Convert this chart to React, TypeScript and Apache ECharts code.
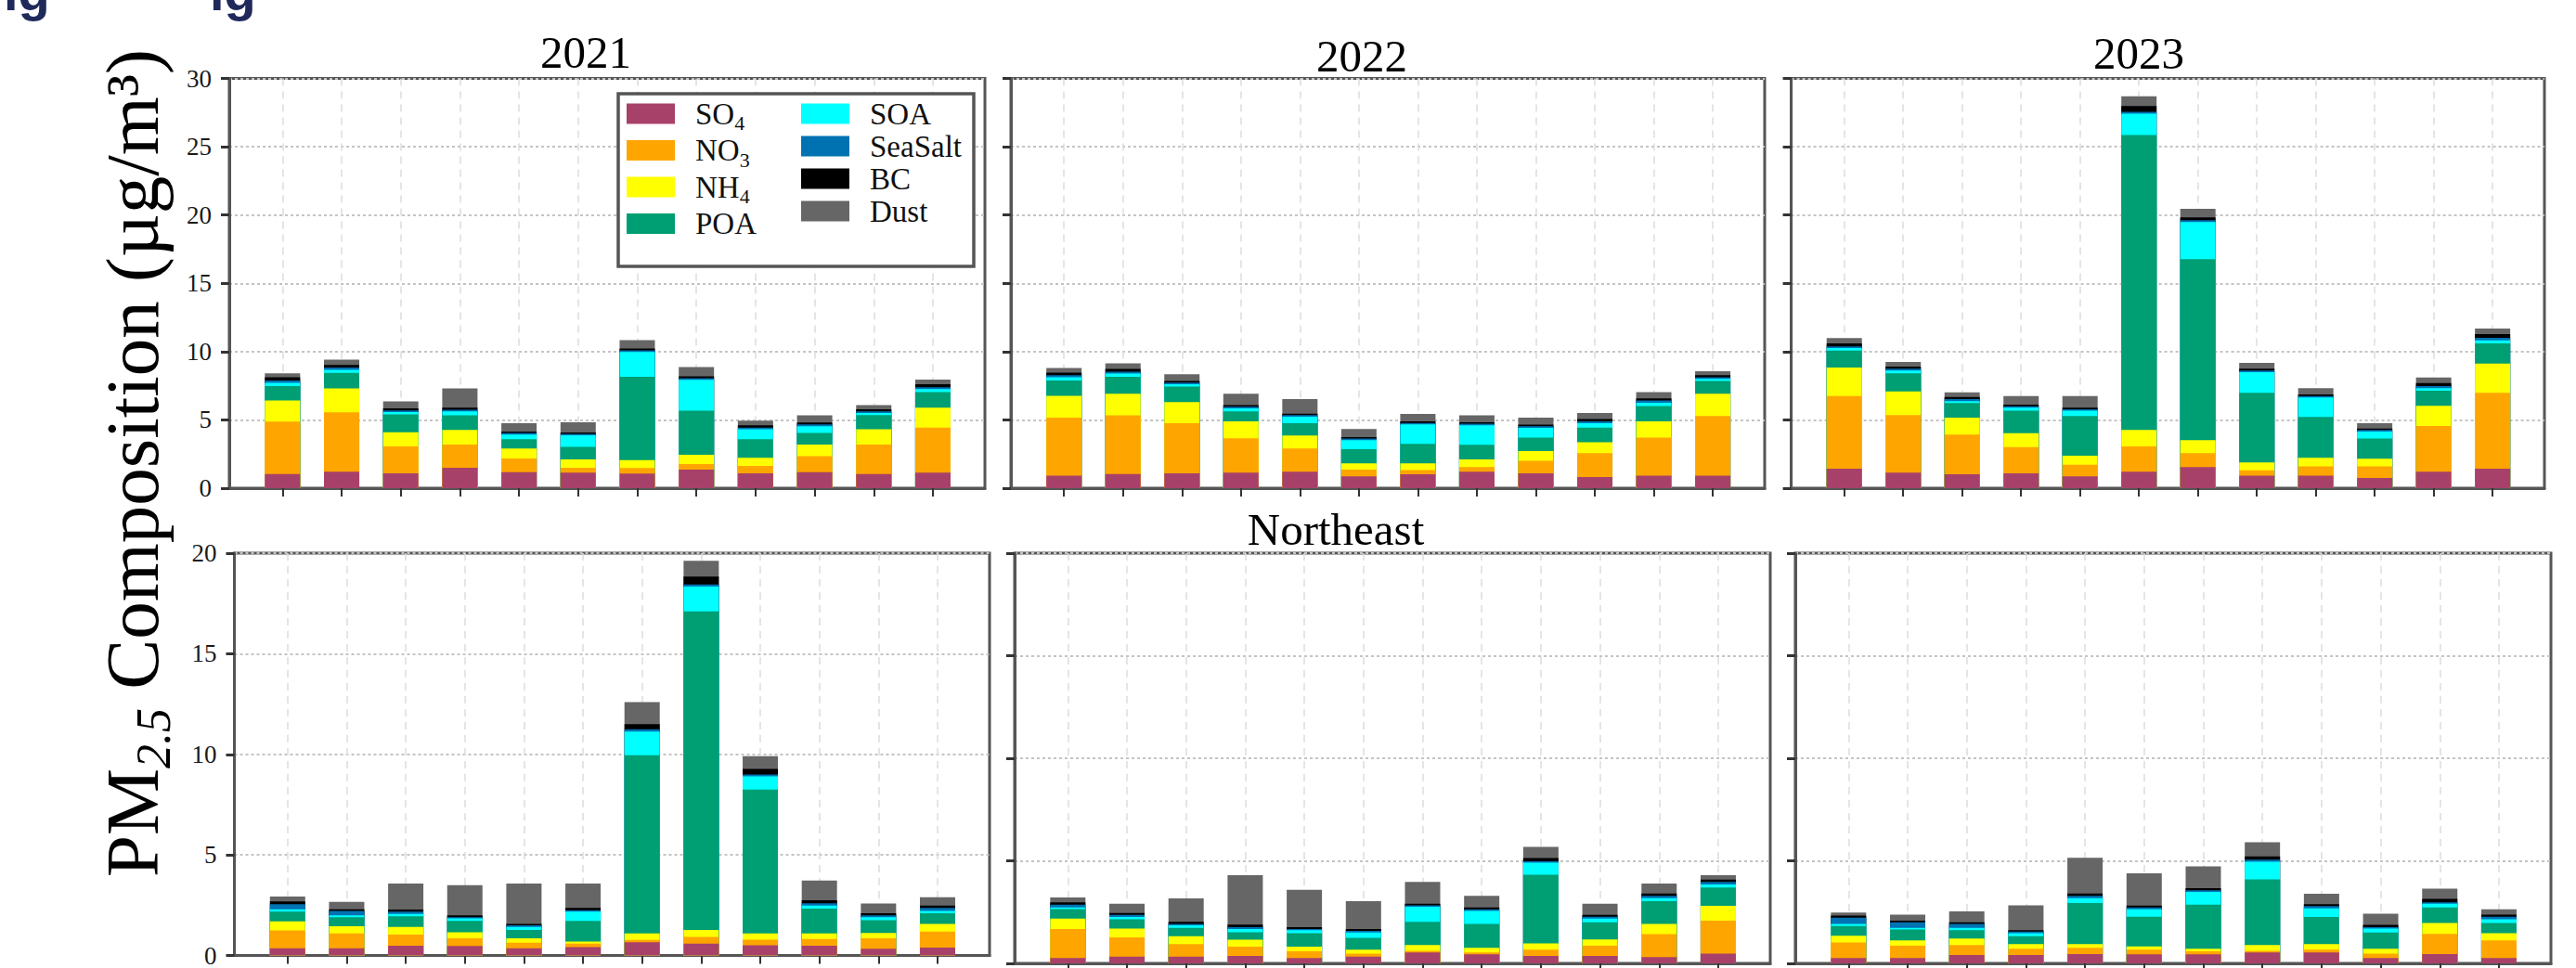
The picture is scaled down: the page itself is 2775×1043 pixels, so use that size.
import React, { useEffect, useRef } from 'react';
import * as echarts from 'echarts';

// ---------- data ----------
const COMPONENTS = ['SO4', 'NO3', 'NH4', 'POA', 'SOA', 'SeaSalt', 'BC', 'Dust'];
const COLORS = ['#A8416A', '#FFA500', '#FFFF00', '#009E73', '#00FFFF', '#0072B2', '#000000', '#666666'];
const MONTHS = [0, 1, 2, 3, 4, 5, 6, 7, 8, 9, 10, 11];
const YEARS = ['2021', '2022', '2023'];
const REGION = 'Northeast';
const TOP_MAX = 30;
const NE_MAX = 20;
const TICK_STEP = 5;

// top row (region above Northeast), rows = SO4, NO3, NH4, POA, SOA, SeaSalt, BC, Dust
const top2021 = [
  [1.04, 1.20, 1.09, 1.50, 1.18, 1.13, 1.07, 1.36, 1.09, 1.18, 1.04, 1.13],
  [3.84, 4.36, 1.97, 1.70, 1.00, 0.37, 0.40, 0.41, 0.54, 1.16, 2.16, 3.31],
  [1.54, 1.74, 1.04, 1.06, 0.72, 0.61, 0.59, 0.68, 0.59, 0.86, 1.11, 1.46],
  [1.06, 1.14, 1.30, 1.07, 0.68, 0.91, 6.10, 3.22, 1.36, 0.84, 1.04, 1.13],
  [0.23, 0.22, 0.18, 0.29, 0.34, 0.86, 1.82, 2.27, 0.73, 0.50, 0.16, 0.23],
  [0.18, 0.18, 0.11, 0.12, 0.12, 0.09, 0.11, 0.11, 0.13, 0.13, 0.11, 0.13],
  [0.23, 0.18, 0.16, 0.16, 0.11, 0.11, 0.14, 0.14, 0.16, 0.14, 0.16, 0.23],
  [0.29, 0.39, 0.50, 1.40, 0.61, 0.75, 0.61, 0.68, 0.34, 0.52, 0.30, 0.34],
];
const top2022 = [
  [0.91, 1.04, 1.09, 1.13, 1.20, 0.86, 1.02, 1.20, 1.09, 0.82, 0.91, 0.91],
  [4.26, 4.29, 3.67, 2.52, 1.70, 0.50, 0.30, 0.34, 0.91, 1.74, 2.79, 4.37],
  [1.59, 1.59, 1.54, 1.25, 0.95, 0.45, 0.49, 0.57, 0.72, 0.80, 1.20, 1.64],
  [1.13, 1.24, 1.14, 0.72, 0.91, 1.05, 1.43, 1.06, 0.98, 1.08, 1.11, 0.93],
  [0.23, 0.23, 0.18, 0.23, 0.48, 0.65, 1.43, 1.43, 0.72, 0.32, 0.25, 0.15],
  [0.16, 0.14, 0.11, 0.11, 0.11, 0.12, 0.11, 0.12, 0.12, 0.14, 0.16, 0.12],
  [0.18, 0.20, 0.12, 0.12, 0.11, 0.11, 0.12, 0.11, 0.11, 0.16, 0.16, 0.16],
  [0.34, 0.41, 0.49, 0.84, 1.07, 0.59, 0.54, 0.50, 0.52, 0.45, 0.45, 0.29],
];
const top2023 = [
  [1.43, 1.13, 1.02, 1.09, 0.86, 1.20, 1.54, 0.91, 0.91, 0.75, 1.20, 1.43],
  [5.32, 4.22, 2.90, 1.92, 0.86, 1.86, 1.02, 0.40, 0.68, 0.84, 3.35, 5.55],
  [2.09, 1.74, 1.25, 1.02, 0.66, 1.20, 0.95, 0.57, 0.63, 0.56, 1.48, 2.15],
  [1.24, 1.32, 1.06, 1.64, 2.90, 21.60, 13.26, 5.10, 2.99, 1.48, 1.11, 1.47],
  [0.18, 0.20, 0.14, 0.22, 0.39, 1.56, 2.72, 1.52, 1.43, 0.52, 0.18, 0.23],
  [0.12, 0.14, 0.16, 0.11, 0.11, 0.14, 0.13, 0.11, 0.11, 0.11, 0.16, 0.18],
  [0.22, 0.16, 0.15, 0.12, 0.11, 0.43, 0.21, 0.14, 0.12, 0.11, 0.22, 0.27],
  [0.39, 0.34, 0.34, 0.63, 0.86, 0.70, 0.63, 0.43, 0.45, 0.39, 0.41, 0.41],
];
const ne2021 = [
  [0.36, 0.36, 0.48, 0.47, 0.36, 0.42, 0.66, 0.59, 0.51, 0.48, 0.33, 0.39],
  [0.88, 0.73, 0.56, 0.38, 0.27, 0.17, 0.11, 0.33, 0.28, 0.34, 0.52, 0.80],
  [0.45, 0.36, 0.38, 0.30, 0.22, 0.10, 0.32, 0.35, 0.30, 0.27, 0.27, 0.38],
  [0.49, 0.45, 0.53, 0.57, 0.42, 1.03, 8.86, 15.83, 7.16, 1.24, 0.63, 0.53],
  [0.12, 0.09, 0.12, 0.12, 0.15, 0.46, 1.18, 1.24, 0.65, 0.15, 0.15, 0.12],
  [0.25, 0.22, 0.11, 0.06, 0.08, 0.07, 0.11, 0.10, 0.10, 0.12, 0.09, 0.14],
  [0.14, 0.09, 0.10, 0.09, 0.07, 0.11, 0.26, 0.40, 0.27, 0.15, 0.11, 0.12],
  [0.24, 0.37, 1.30, 1.51, 2.01, 1.22, 1.10, 0.78, 0.64, 0.98, 0.48, 0.41],
];
const ne2022 = [
  [0.26, 0.33, 0.33, 0.36, 0.26, 0.33, 0.53, 0.44, 0.36, 0.36, 0.30, 0.48],
  [1.41, 0.94, 0.61, 0.46, 0.33, 0.15, 0.08, 0.09, 0.31, 0.50, 1.12, 1.60],
  [0.51, 0.43, 0.38, 0.33, 0.23, 0.19, 0.28, 0.23, 0.30, 0.31, 0.50, 0.72],
  [0.47, 0.45, 0.41, 0.37, 0.65, 0.57, 1.14, 1.16, 3.35, 0.83, 1.11, 0.90],
  [0.08, 0.11, 0.12, 0.15, 0.15, 0.26, 0.73, 0.64, 0.59, 0.18, 0.15, 0.15],
  [0.13, 0.10, 0.07, 0.10, 0.05, 0.08, 0.07, 0.08, 0.07, 0.09, 0.11, 0.12],
  [0.12, 0.09, 0.11, 0.12, 0.10, 0.09, 0.08, 0.09, 0.16, 0.09, 0.12, 0.11],
  [0.23, 0.46, 1.14, 2.41, 1.82, 1.36, 1.06, 0.56, 0.54, 0.55, 0.48, 0.22],
];
const ne2023 = [
  [0.26, 0.26, 0.41, 0.41, 0.45, 0.44, 0.44, 0.53, 0.53, 0.26, 0.45, 0.26],
  [0.76, 0.60, 0.48, 0.30, 0.31, 0.23, 0.15, 0.08, 0.14, 0.22, 0.99, 0.86],
  [0.33, 0.26, 0.32, 0.23, 0.18, 0.16, 0.12, 0.28, 0.27, 0.23, 0.53, 0.35],
  [0.47, 0.53, 0.41, 0.38, 2.00, 1.44, 2.15, 3.20, 1.32, 0.79, 0.76, 0.50],
  [0.10, 0.08, 0.11, 0.15, 0.24, 0.37, 0.62, 0.86, 0.42, 0.20, 0.18, 0.18],
  [0.31, 0.27, 0.19, 0.08, 0.11, 0.09, 0.08, 0.11, 0.11, 0.07, 0.07, 0.12],
  [0.10, 0.08, 0.08, 0.07, 0.12, 0.09, 0.11, 0.15, 0.09, 0.11, 0.16, 0.11],
  [0.15, 0.30, 0.53, 1.21, 1.74, 1.57, 1.06, 0.70, 0.51, 0.54, 0.50, 0.26],
];

// ---------- layout ----------
const SERIF = "'Liberation Serif', 'Times New Roman', serif";
const FRAME = '#555555';
const PANELS = [
  { data: top2021, left: 247, top: 84.6, width: 814, height: 441.4, max: TOP_MAX, labels: true },
  { data: top2022, left: 1089, top: 84.6, width: 812, height: 441.4, max: TOP_MAX, labels: false },
  { data: top2023, left: 1929.6, top: 84.6, width: 811.4, height: 441.4, max: TOP_MAX, labels: false },
  { data: ne2021, left: 252.5, top: 596, width: 813.5, height: 442, max: NE_MAX, labels: true },
  { data: ne2022, left: 1093, top: 596, width: 814, height: 442, max: NE_MAX, labels: false },
  { data: ne2023, left: 1934, top: 596, width: 814, height: 442, max: NE_MAX, labels: false },
];

const LEGEND_LABEL: Record<string, string> = {
  SO4: '{a|SO}{s|4}',
  NO3: '{a|NO}{s|3}',
  NH4: '{a|NH}{s|4}',
  POA: '{a|POA}',
  SOA: '{a|SOA}',
  SeaSalt: '{a|SeaSalt}',
  BC: '{a|BC}',
  Dust: '{a|Dust}',
};

function cumulative(rows: number[][]): number[][] {
  const out: number[][] = [];
  rows.forEach((row, c) => {
    out.push(row.map((v, i) => (c === 0 ? v : out[c - 1][i] + v)));
  });
  return out;
}

function buildOption() {
  const grid: any[] = [];
  const xAxis: any[] = [];
  const yAxis: any[] = [];
  const series: any[] = [];

  PANELS.forEach((p, pi) => {
    grid.push({
      left: p.left, top: p.top, width: p.width, height: p.height,
      show: true, borderColor: FRAME, borderWidth: 3, containLabel: false,
    });
    xAxis.push({
      type: 'value', gridIndex: pi, min: -0.9, max: 11.88,
      axisLine: { show: true, onZero: false, lineStyle: { color: FRAME, width: 3 } },
      axisTick: { show: true, customValues: MONTHS, length: 9, lineStyle: { color: '#333', width: 2 } },
      axisLabel: { show: false },
      splitLine: { show: true, lineStyle: { color: '#dddddd', type: [8, 6], width: 1.5 } },
    });
    yAxis.push({
      type: 'value', gridIndex: pi, min: 0, max: p.max, interval: TICK_STEP,
      axisLine: { show: true, onZero: false, lineStyle: { color: FRAME, width: 3 } },
      axisTick: { show: true, length: 9, lineStyle: { color: '#333', width: 3 } },
      axisLabel: {
        show: p.labels, fontFamily: SERIF, fontSize: 27, color: '#1a1a1a', margin: 19,
      },
      splitLine: { show: true, lineStyle: { color: '#c4c4c4', type: [3, 3], width: 2.2 } },
    });
    const cum = cumulative(p.data);
    for (let c = COMPONENTS.length - 1; c >= 0; c--) {
      series.push({
        type: 'bar', name: COMPONENTS[c], xAxisIndex: pi, yAxisIndex: pi,
        barWidth: 38, barGap: '-100%', silent: true,
        itemStyle: { color: COLORS[c] },
        data: cum[c].map((v, i) => [MONTHS[i], v]),
      });
    }
  });

  const legendCommon = {
    orient: 'vertical', padding: 0, itemWidth: 52, itemHeight: 22, itemGap: 2,
    icon: 'rect', selectedMode: false,
    formatter: (name: string) => LEGEND_LABEL[name] || name,
    textStyle: {
      fontFamily: SERIF, fontSize: 33, color: '#111',
      rich: {
        a: { fontFamily: SERIF, fontSize: 33, lineHeight: 42, padding: [0, 0, 0, 17], color: '#111' },
        s: { fontFamily: SERIF, fontSize: 22, lineHeight: 22, verticalAlign: 'bottom', color: '#111' },
      },
    },
  };

  const titleStyle = (text: string, x: number, y: number) => ({
    type: 'text', x, y, z: 5,
    style: { text, fontFamily: SERIF, fontSize: 49, fill: '#000', align: 'center', verticalAlign: 'middle' },
  });

  return {
    animation: false,
    backgroundColor: '#ffffff',
    grid, xAxis, yAxis, series,
    legend: [
      { ...legendCommon, left: 675, top: 106, data: COMPONENTS.slice(0, 4) },
      { ...legendCommon, left: 863, top: 106, data: COMPONENTS.slice(4) },
    ],
    graphic: [
      {
        type: 'rect', z: 3,
        shape: { x: 666, y: 101, width: 383, height: 186 },
        style: { fill: '#ffffff', stroke: FRAME, lineWidth: 3.5 },
      },
      titleStyle(YEARS[0], 631, 56),
      titleStyle(YEARS[1], 1467, 60),
      titleStyle(YEARS[2], 2304, 57),
      titleStyle(REGION, 1439, 570),
      {
        type: 'text', x: 143, y: 499, rotation: Math.PI / 2, z: 5,
        style: {
          text: '{a|PM}{b|2.5}{a| Composition (µg/m³)}',
          align: 'center', verticalAlign: 'middle', fill: '#000',
          rich: {
            a: { fontFamily: SERIF, fontSize: 81, lineHeight: 96, fill: '#000' },
            b: { fontFamily: SERIF, fontSize: 52, fontStyle: 'italic', lineHeight: 42, verticalAlign: 'bottom', fill: '#000' },
          },
        },
      },
      {
        type: 'text', x: 4, y: 19, z: 5,
        style: { text: 'ig', fontFamily: "'Liberation Sans', Arial, sans-serif", fontWeight: 'bold', fontSize: 56, fill: '#1F2A5A', verticalAlign: 'bottom' },
      },
      {
        type: 'text', x: 226, y: 19, z: 5,
        style: { text: 'ig', fontFamily: "'Liberation Sans', Arial, sans-serif", fontWeight: 'bold', fontSize: 56, fill: '#1F2A5A', verticalAlign: 'bottom' },
      },
    ],
  };
}

export default function App() {
  const ref = useRef<HTMLDivElement>(null);
  useEffect(() => {
    if (!ref.current) return;
    const chart = echarts.init(ref.current, undefined, { renderer: 'svg' });
    chart.setOption(buildOption() as any);
    return () => chart.dispose();
  }, []);
  return (
    <div
      ref={ref}
      style={{ position: 'fixed', left: 0, top: 0, width: 2775, height: 1043, background: '#fff' }}
    />
  );
}
